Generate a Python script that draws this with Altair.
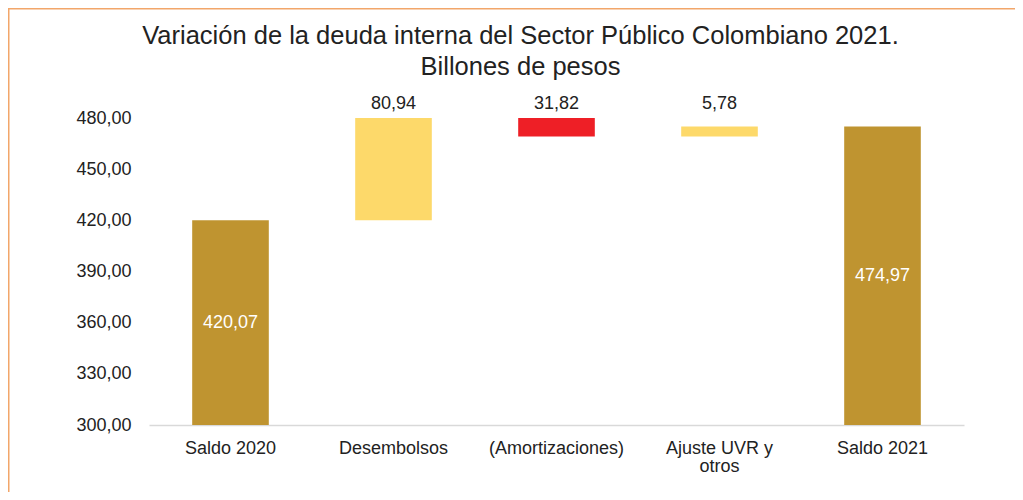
import altair as alt
import pandas as pd

categories = ["Saldo 2020", "Desembolsos", "(Amortizaciones)", "Ajuste UVR y otros", "Saldo 2021"]
amounts = [420.07, 80.94, -31.82, 5.78, 474.97]
kinds = ["total", "up", "down", "up", "total"]
y_ticks = [300, 330, 360, 390, 420, 450, 480]
y_min, y_max = 300, 480

rows = []
running = 0.0
for c, v, k in zip(categories, amounts, kinds):
    if k == "total":
        start, end = y_min, v
        running = v
        lab_y = (y_min + min(v, y_max)) / 2
    else:
        start, end = running, running + v
        running = end
        lab_y = y_max
    rows.append({
        "cat": c, "start": start, "end": end, "kind": k,
        "label": f"{abs(v):.2f}".replace(".", ","), "lab_y": lab_y,
    })
df = pd.DataFrame(rows)

W, H = 815, 307
PL, PT = 141, 110
PR = 1007 - PL - W
PB = 484 - PT - H
FONT = "Liberation Sans"
FS = 18

x = alt.X("cat:N", sort=categories, title=None,
          scale=alt.Scale(paddingInner=0.53, paddingOuter=0.265),
          axis=alt.Axis(labelAngle=0, ticks=False, domainColor="#d9d9d9", domainWidth=1.5,
                        labelFontSize=FS, labelColor="#222222", labelPadding=14,
                        labelLineHeight=18, labelFont=FONT,
                        labelExpr="datum.label == 'Ajuste UVR y otros' ? ['Ajuste UVR y', 'otros'] : datum.label"))

yscale = alt.Scale(domain=[y_min, y_max], nice=False, zero=False)

bars = alt.Chart(df).mark_bar(clip=True).encode(
    x=x,
    y=alt.Y("start:Q", scale=yscale, title=None,
            axis=alt.Axis(values=y_ticks, grid=False, domain=False, ticks=False,
                          labelFontSize=FS, labelColor="#222222", labelPadding=18,
                          labelFont=FONT,
                          labelExpr="replace(format(datum.value, '.2f'), '.', ',')")),
    y2="end:Q",
    color=alt.Color("kind:N", legend=None,
                    scale=alt.Scale(domain=["total", "up", "down"],
                                    range=["#BF9430", "#FDD96A", "#EE1F26"])),
)

lab_out = alt.Chart(df).transform_filter("datum.kind != 'total'").mark_text(
    dy=-14, fontSize=FS, color="#222222", font=FONT
).encode(x=alt.X("cat:N", sort=categories), y=alt.Y("lab_y:Q", scale=yscale), text="label:N")

lab_in = alt.Chart(df).transform_filter("datum.kind == 'total'").mark_text(
    fontSize=FS, color="white", font=FONT
).encode(x=alt.X("cat:N", sort=categories), y=alt.Y("lab_y:Q", scale=yscale), text="label:N")

frame_top = alt.Chart(df).transform_filter("datum.cat == 'Desembolsos'").mark_rule(
    color="#F2A66A", strokeWidth=1.5).encode(
    x=alt.value(-PL), x2=alt.value(W + PR), y=alt.value(-PT + 0.75))
frame_left = alt.Chart(df).transform_filter("datum.cat == 'Desembolsos'").mark_rule(
    color="#F2A66A", strokeWidth=1.5).encode(
    x=alt.value(-PL + 0.75), y=alt.value(-PT), y2=alt.value(H + PB))

chart = alt.layer(bars, lab_out, lab_in, frame_top, frame_left).properties(
    width=W, height=H,
    title=alt.TitleParams(
        ["Variación de la deuda interna del Sector Público Colombiano 2021.", "Billones de pesos"],
        fontSize=25.5, fontWeight="normal", color="#222222", font=FONT,
        anchor="middle", dx=-36, dy=78, offset=5, lineHeight=31),
    autosize=alt.AutoSizeParams(type="none"),
    padding={"left": PL, "top": PT, "right": PR, "bottom": PB},
).configure_view(stroke=None)

chart.save("out.html", embed_options={"renderer": "svg", "actions": False})
